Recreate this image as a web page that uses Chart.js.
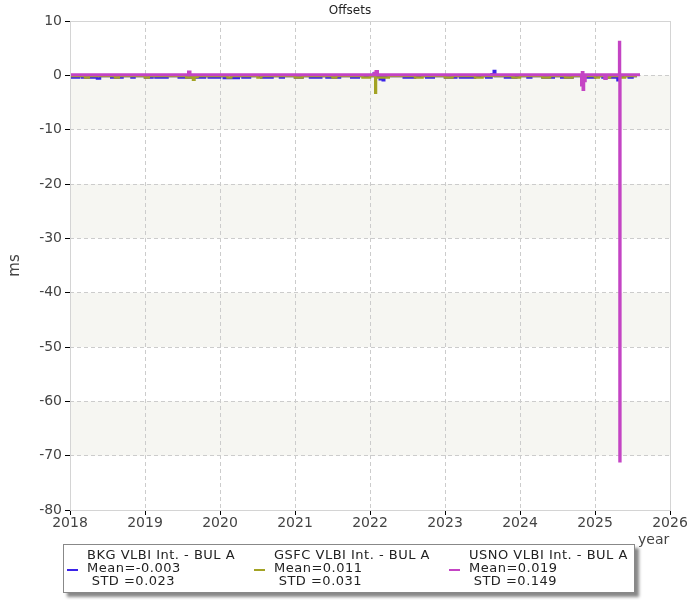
<!DOCTYPE html>
<html>
<head>
<meta charset="utf-8">
<script src="https://cdn.jsdelivr.net/npm/chart.js@4/dist/chart.umd.min.js"></script>
<style>
  body { margin:0; background:#fff; font-family:"DejaVu Sans", Verdana, sans-serif; }
  #wrap { position:relative; width:700px; height:600px; }
  #title { position:absolute; left:0; width:700px; top:3px; text-align:center; font-size:12px; color:#222; }
  #xtitle { position:absolute; left:638px; top:531px; font-size:14px; color:#444; }
  #legend { position:absolute; left:63px; top:544px; width:570px; height:47px; border:1px solid #888;
            background:#fff; box-shadow:4px 4px 3px #888; font-size:13px; letter-spacing:0.5px; color:#222; }
  .col { position:absolute; top:3px; line-height:13px; white-space:pre; }
  .mark { position:absolute; top:24px; width:11px; height:2px; }
</style>
</head>
<body>
<div id="wrap">
  <canvas id="chart" width="700" height="600"></canvas>
  <div id="title">Offsets</div>
  <div id="xtitle">year</div>
  <div id="legend"></div>
</div>
<script>
var seriesNames = ['BKG VLBI Int. - BUL A', 'GSFC VLBI Int. - BUL A', 'USNO VLBI Int. - BUL A'];
var seriesMeans = ['-0.003', '0.011', '0.019'];
var seriesStd = ['0.023', '0.031', '0.149'];
var seriesColors = ['#3a22e8', '#a3a325', '#c444c4'];

var bkgX = [2018.00,2018.12,2018.16,2018.36,2018.40,2018.55,2018.70,2018.82,2018.86,2019.00,2019.10,2019.14,2019.30,2019.45,2019.62,2019.68,2019.80,2019.85,2020.00,2020.05,2020.25,2020.30,2020.40,2020.55,2020.70,2020.80,2020.85,2021.00,2021.10,2021.20,2021.35,2021.42,2021.60,2021.75,2021.85,2022.00,2022.05,2022.06,2022.12,2022.13,2022.15,2022.17,2022.19,2022.30,2022.45,2022.60,2022.75,2022.85,2023.00,2023.15,2023.20,2023.40,2023.55,2023.62,2023.65,2023.67,2023.80,2023.95,2024.10,2024.15,2024.30,2024.45,2024.55,2024.70,2024.85,2025.00,2025.10,2025.28,2025.30,2025.32,2025.45,2025.50,2025.56];
var bkgY = [-0.4,-0.1,-0.4,-0.6,-0.1,-0.4,-0.1,-0.4,-0.1,-0.4,-0.1,-0.4,-0.1,-0.4,-0.1,-0.4,-0.1,-0.4,-0.1,-0.5,-0.1,-0.4,-0.1,-0.4,-0.1,-0.4,-0.1,-0.4,-0.1,-0.4,-0.1,-0.4,-0.1,-0.4,-0.1,-0.1,0.4,-0.1,-0.1,-0.7,-0.1,-0.9,-0.1,-0.1,-0.4,-0.1,-0.4,-0.1,-0.4,-0.1,-0.4,-0.1,-0.4,0.2,0.8,-0.1,-0.4,-0.1,-0.4,-0.1,-0.4,-0.1,-0.4,-0.1,-0.4,-0.1,-0.4,-0.1,-0.9,-0.1,-0.4,-0.1,-0.1];

var gsfcX = [2018.00,2018.20,2018.25,2018.60,2018.65,2019.00,2019.05,2019.55,2019.62,2019.64,2019.66,2019.70,2020.10,2020.15,2020.50,2020.55,2021.00,2021.10,2021.50,2021.55,2021.90,2022.00,2022.06,2022.07,2022.08,2022.20,2022.25,2022.60,2022.70,2023.00,2023.10,2023.40,2023.50,2023.90,2024.00,2024.30,2024.40,2024.60,2024.70,2025.00,2025.05,2025.15,2025.20,2025.35,2025.40,2025.56];
var gsfcY = [-0.1,-0.4,-0.1,-0.4,-0.1,-0.4,-0.1,-0.4,-0.1,-0.8,-0.3,-0.1,-0.4,-0.1,-0.4,-0.1,-0.4,-0.1,-0.4,-0.1,-0.4,-0.1,0.3,-3.2,-0.4,-0.4,-0.1,-0.4,-0.1,-0.4,-0.1,-0.4,-0.1,-0.4,-0.1,-0.4,-0.1,-0.4,-0.1,-0.4,-0.1,-0.4,-0.1,-0.4,-0.1,-0.1];

var usnoX = [2018.00,2018.50,2019.00,2019.57,2019.58,2019.60,2020.00,2020.50,2021.00,2021.50,2022.00,2022.06,2022.08,2022.10,2022.50,2023.00,2023.50,2024.00,2024.50,2024.82,2024.83,2024.84,2024.85,2024.87,2025.12,2025.13,2025.15,2025.325,2025.33,2025.335,2025.60];
var usnoY = [0.1,0.1,0.1,0.1,0.6,0.1,0.1,0.1,0.1,0.1,0.1,0.4,0.7,0.1,0.1,0.1,0.1,0.1,0.1,-1.8,0.5,-2.6,-1.0,0.1,0.1,-0.6,0.1,6.1,-71.0,0.1,0.1];

var yTicks = [10, 0, -10, -20, -30, -40, -50, -60, -70, -80];
var xTicks = [2018, 2019, 2020, 2021, 2022, 2023, 2024, 2025, 2026];

function pts(xs, ys) {
    return xs.map(function(x, i){ return {x: x, y: ys[i]}; });
}

// legend
var legendHtml = '';
var colLeft = [3, 190, 385];
seriesNames.forEach(function(name, i){
    legendHtml += '<div class="mark" style="left:' + colLeft[i] + 'px;background:' + seriesColors[i] + '"></div>';
    legendHtml += '<div class="col" style="left:' + (colLeft[i] + 20) + 'px">' + name + '\nMean=' + seriesMeans[i] + '\n STD =' + seriesStd[i] + '</div>';
});
document.getElementById('legend').innerHTML = legendHtml;

var bandsPlugin = {
    id: 'bands',
    beforeDraw: function(chart){
        var ctx = chart.ctx, a = chart.chartArea, y = chart.scales.y;
        ctx.save();
        ctx.fillStyle = '#f6f6f2';
        for (var v = 0; v > -80; v -= 20) {
            var top = y.getPixelForValue(v), bot = y.getPixelForValue(v - 10);
            ctx.fillRect(a.left, top, a.right - a.left, bot - top);
        }
        ctx.restore();
    },
    afterDatasetsDraw: function(chart){
        var ctx = chart.ctx, a = chart.chartArea;
        ctx.save();
        ctx.strokeStyle = '#d4d4d4';
        ctx.lineWidth = 1;
        ctx.strokeRect(a.left + 0.5, a.top + 0.5, a.right - a.left, a.bottom - a.top);
        ctx.restore();
    }
};

new Chart(document.getElementById('chart'), {
    type: 'line',
    plugins: [bandsPlugin],
    data: {
        datasets: [
            { label: seriesNames[2], data: pts(usnoX, usnoY), borderColor: seriesColors[2], borderWidth: 3, order: 0 },
            { label: seriesNames[1], data: pts(gsfcX, gsfcY), borderColor: seriesColors[1], borderWidth: 2.5, order: 1 },
            { label: seriesNames[0], data: pts(bkgX, bkgY), borderColor: seriesColors[0], borderWidth: 2.5, order: 2 }
        ]
    },
    options: {
        responsive: false,
        animation: false,
        elements: { point: { radius: 0 }, line: { stepped: true, borderCapStyle: 'butt' } },
        layout: { padding: { left: 0, top: 21, right: 30, bottom: 0 } },
        plugins: { legend: { display: false }, title: { display: false }, tooltip: { enabled: false } },
        scales: {
            x: {
                type: 'linear', min: 2018, max: 2026,
                afterFit: function(s){ s.height = 90; },
                afterBuildTicks: function(s){ s.ticks = xTicks.map(function(v){ return {value: v}; }); },
                ticks: { color: '#444', font: { family: 'DejaVu Sans', size: 14 }, padding: 0, maxRotation: 0,
                         callback: function(v){ return String(v); } },
                grid: { color: '#cccccc', tickColor: '#000', tickLength: 5, tickBorderDash: [0, 0] },
                border: { display: false, dash: [4, 3] }
            },
            y: {
                min: -80, max: 10,
                afterFit: function(s){ s.width = 70; },
                afterBuildTicks: function(s){ s.ticks = yTicks.map(function(v){ return {value: v}; }); },
                ticks: { color: '#444', font: { family: 'DejaVu Sans', size: 14 }, padding: 3 },
                grid: { color: '#cccccc', tickColor: '#000', tickLength: 5, tickBorderDash: [0, 0] },
                border: { display: false, dash: [4, 3] },
                title: { display: true, text: 'ms', color: '#444', font: { family: 'DejaVu Sans', size: 15 }, padding: { top: 6, bottom: 0 } }
            }
        }
    }
});
</script>
</body>
</html>
